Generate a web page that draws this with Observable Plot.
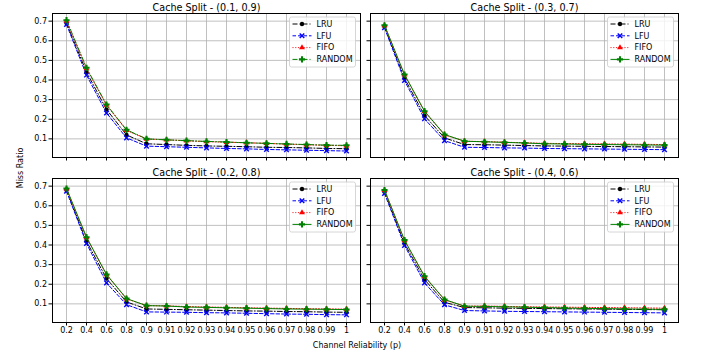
<!DOCTYPE html>
<html><head><meta charset="utf-8">
<script src="https://cdn.jsdelivr.net/npm/d3@7"></script>
<script src="https://cdn.jsdelivr.net/npm/@observablehq/plot@0.6"></script>
<style>
html,body{margin:0;padding:0;background:#fff;}
#wrap{position:relative;width:702px;height:355px;}
</style></head><body><div id="wrap"></div>
<script>
// ---- data ----
const pLabels = ["0.2","0.4","0.6","0.8","0.9","0.91","0.92","0.93","0.94","0.95","0.96","0.97","0.98","0.99","1"];
const yTicks = [0.1,0.2,0.3,0.4,0.5,0.6,0.7];
const panelTitles = ["Cache Split - (0.1, 0.9)","Cache Split - (0.3, 0.7)","Cache Split - (0.2, 0.8)","Cache Split - (0.4, 0.6)"];
const panelCols = [0,1,0,1];
const panelRows = [0,0,1,1];
const seriesNames = ["LRU","LFU","FIFO","RANDOM"];
const seriesColors = ["#000000","#0000ff","#ff0000","#008000"];

// Cache Split (0.1, 0.9)
const A_LRU    = [0.690,0.440,0.250,0.120,0.075,0.071,0.067,0.064,0.062,0.060,0.057,0.056,0.054,0.051,0.050];
const A_LFU    = [0.683,0.425,0.232,0.105,0.063,0.060,0.057,0.054,0.051,0.049,0.046,0.044,0.042,0.040,0.038];
const A_FIFO   = [0.700,0.458,0.272,0.144,0.099,0.095,0.090,0.086,0.083,0.080,0.077,0.073,0.070,0.067,0.065];
const A_RANDOM = [0.705,0.462,0.275,0.146,0.100,0.095,0.091,0.087,0.084,0.080,0.077,0.074,0.071,0.068,0.067];
// Cache Split (0.3, 0.7)
const B_LRU    = [0.672,0.409,0.219,0.105,0.071,0.070,0.068,0.066,0.064,0.063,0.062,0.061,0.060,0.059,0.058];
const B_LFU    = [0.666,0.397,0.202,0.091,0.057,0.056,0.054,0.053,0.051,0.050,0.049,0.048,0.047,0.046,0.045];
const B_FIFO   = [0.678,0.426,0.240,0.121,0.088,0.086,0.083,0.080,0.077,0.076,0.075,0.074,0.073,0.072,0.071];
const B_RANDOM = [0.679,0.428,0.241,0.122,0.088,0.085,0.082,0.079,0.075,0.074,0.072,0.071,0.070,0.069,0.068];
// Cache Split (0.2, 0.8)
const C_LRU    = [0.680,0.419,0.229,0.110,0.074,0.072,0.070,0.068,0.066,0.064,0.063,0.061,0.060,0.058,0.057];
const C_LFU    = [0.674,0.408,0.207,0.096,0.059,0.058,0.057,0.055,0.054,0.052,0.050,0.048,0.047,0.045,0.044];
const C_FIFO   = [0.686,0.438,0.249,0.126,0.091,0.090,0.086,0.084,0.082,0.080,0.078,0.077,0.075,0.074,0.073];
const C_RANDOM = [0.688,0.440,0.250,0.127,0.091,0.089,0.084,0.082,0.080,0.078,0.076,0.074,0.073,0.072,0.071];
// Cache Split (0.4, 0.6)
const D_LRU    = [0.672,0.408,0.224,0.108,0.081,0.080,0.078,0.077,0.076,0.075,0.074,0.073,0.072,0.071,0.070];
const D_LFU    = [0.663,0.398,0.207,0.095,0.066,0.064,0.062,0.061,0.060,0.059,0.058,0.057,0.056,0.055,0.054];
const D_FIFO   = [0.679,0.423,0.239,0.121,0.088,0.089,0.087,0.085,0.084,0.083,0.082,0.081,0.080,0.079,0.078];
const D_RANDOM = [0.680,0.425,0.241,0.122,0.088,0.087,0.085,0.083,0.081,0.079,0.077,0.076,0.074,0.073,0.072];

const panelSeries = [
  [A_LRU, A_LFU, A_FIFO, A_RANDOM],
  [B_LRU, B_LFU, B_FIFO, B_RANDOM],
  [C_LRU, C_LFU, C_FIFO, C_RANDOM],
  [D_LRU, D_LFU, D_FIFO, D_RANDOM]
];

// ---- build tidy rows (x = position index of the categorical p value) ----
const rows = [];
panelSeries.forEach((list, pi) => {
  list.forEach((vals, si) => {
    vals.forEach((v, k) => rows.push({panel: pi, col: panelCols[pi], row: panelRows[pi], series: seriesNames[si], i: k, v}));
  });
});
const panels = panelTitles.map((t, i) => ({title: t, col: panelCols[i], row: panelRows[i]}));
const xIdx = pLabels.map((_, k) => k);

const DASHDOT = "5,2,1,2", DASHED = "3.5,2", DOTTED = "1,1.8";
const symbolOf = {LRU: "circle", LFU: "times", FIFO: "triangle", RANDOM: "cross"};
const dashFor = (name, panel) => {
  if (name === "LRU") return DASHDOT;
  if (name === "LFU") return DASHED;
  if (name === "FIFO") return DOTTED;
  return panel === 0 ? DASHDOT : null;
};

const W = 702, H = 355, ML = 52, MR = 24, MT = 13, MB = 32;
const FX_PAD = 0.032, FY_PAD = 0.127;

const marks = [
  Plot.gridX(xIdx, {stroke: "#b0b0b0", strokeOpacity: 1, strokeWidth: 0.8}),
  Plot.gridY(yTicks, {stroke: "#b0b0b0", strokeOpacity: 1, strokeWidth: 0.8}),
];
seriesNames.forEach((name, si) => {
  const color = seriesColors[si];
  [0,1,2,3].forEach(pi => {
    const data = rows.filter(d => d.series === name && d.panel === pi);
    const dash = dashFor(name, pi);
    marks.push(Plot.line(data, {x: "i", y: "v", fx: "col", fy: "row", stroke: color, strokeWidth: 1, strokeDasharray: dash || undefined}));
  });
  const data = rows.filter(d => d.series === name);
  const sym = symbolOf[name];
  if (sym === "times") {
    marks.push(Plot.dot(data, {x: "i", y: "v", fx: "col", fy: "row", symbol: sym, r: 2.2, stroke: color, strokeWidth: 1.4}));
  } else {
    marks.push(Plot.dot(data, {x: "i", y: "v", fx: "col", fy: "row", symbol: sym, r: sym === "cross" ? 2.6 : 2.2, fill: color, stroke: "none"}));
  }
});
marks.push(
  Plot.frame({stroke: "#000", strokeWidth: 1}),
  Plot.axisX(xIdx, {facetAnchor: null, tickSize: 3.5, tickFormat: () => "", label: null, stroke: "#000"}),
  Plot.axisX(xIdx, {facetAnchor: "bottom", tickSize: 0, tickPadding: 5, label: null, fill: "#000", fontSize: 8, tickFormat: k => pLabels[k]}),
  Plot.axisY(yTicks, {facetAnchor: null, tickSize: 3.5, tickFormat: () => "", label: null, stroke: "#000"}),
  Plot.axisY(yTicks, {facetAnchor: "left", tickSize: 0, tickPadding: 5.5, label: null, fill: "#000", fontSize: 8, tickFormat: d3.format(".1f")}),
  Plot.text(panels, {fx: "col", fy: "row", text: "title", frameAnchor: "top", lineAnchor: "bottom", dy: -3, fontSize: 9.6, fill: "#000"})
);

const chart = Plot.plot({
  width: W,
  height: H,
  marginLeft: ML,
  marginRight: MR,
  marginTop: MT,
  marginBottom: MB,
  style: {fontFamily: "DejaVu Sans, sans-serif", fontSize: "8px", color: "#000", background: "#fff"},
  x: {type: "linear", domain: [-0.7, pLabels.length - 1 + 0.7], label: null},
  y: {domain: [0.005, 0.739], label: null},
  fx: {domain: [0,1], paddingInner: FX_PAD, paddingOuter: 0, axis: null},
  fy: {domain: [0,1], paddingInner: FY_PAD, paddingOuter: 0, axis: null},
  marks
});
document.getElementById("wrap").appendChild(chart);

// ---- legends (one per panel) and shared axis labels ----
const fxS = d3.scaleBand([0,1], [ML, W - MR]).paddingInner(FX_PAD).paddingOuter(0).align(0.5).round(true);
const fyS = d3.scaleBand([0,1], [MT, H - MB]).paddingInner(FY_PAD).paddingOuter(0).align(0.5).round(true);
const svg = d3.select(chart);
const symMap = {circle: d3.symbolCircle, times: d3.symbolTimes, triangle: d3.symbolTriangle, cross: d3.symbolCross};
panels.forEach((pn, pi) => {
  const right = fxS(pn.col) + fxS.bandwidth();
  const top = fyS(pn.row);
  const LW = 66, LH = 50;
  const g = svg.append("g").attr("transform", `translate(${right - 4.5 - LW},${top + 4})`)
    .attr("font-family", "DejaVu Sans, sans-serif").attr("font-size", 8).attr("text-anchor", "start");
  g.append("rect").attr("width", LW).attr("height", LH).attr("rx", 2)
    .attr("fill", "#fff").attr("fill-opacity", 0.8).attr("stroke", "#cccccc").attr("stroke-width", 0.8);
  seriesNames.forEach((name, i) => {
    const cy = 7 + i * 11.8;
    const dash = dashFor(name, pi);
    g.append("line").attr("x1", 3).attr("x2", 22).attr("y1", cy).attr("y2", cy)
      .attr("stroke", seriesColors[i]).attr("stroke-width", 1).attr("stroke-dasharray", dash);
    const s = symbolOf[name];
    const r = s === "cross" ? 2.6 : 2.2;
    const p = g.append("path").attr("d", d3.symbol(symMap[s], Math.PI * r * r)()).attr("transform", `translate(12.5,${cy})`);
    if (s === "times") p.attr("fill", "none").attr("stroke", seriesColors[i]).attr("stroke-width", 1.4);
    else p.attr("fill", seriesColors[i]);
    g.append("text").attr("x", 27).attr("y", cy).attr("dy", "0.35em").attr("text-anchor", "start").attr("fill", "#000").text(name);
  });
});
svg.append("text").attr("x", 357).attr("y", 345).attr("dy", "0.35em").attr("text-anchor", "middle")
  .attr("font-family", "DejaVu Sans, sans-serif").attr("font-size", 8).attr("fill", "#000").text("Channel Reliability (p)");
svg.append("text").attr("transform", "translate(20,168) rotate(-90)").attr("dy", "0.35em").attr("text-anchor", "middle")
  .attr("font-family", "DejaVu Sans, sans-serif").attr("font-size", 8).attr("fill", "#000").text("Miss Ratio");
</script>
</body></html>
